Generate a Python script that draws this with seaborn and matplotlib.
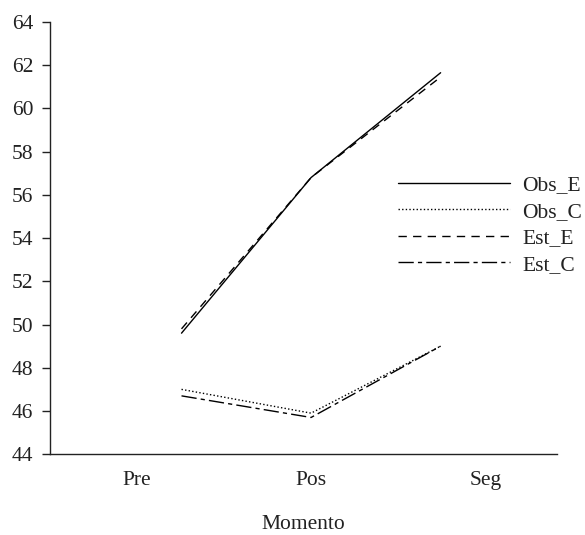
import pandas as pd
import numpy as np
import seaborn as sns
import matplotlib.pyplot as plt

# datos
momentos = ["Pre", "Pos", "Seg"]
obs_e = [49.6, 56.8, 61.65]
obs_c = [47.0, 45.9, 49.0]
est_e = [49.8, 56.8, 61.45]
est_c = [46.7, 45.7, 49.0]

series = {"Obs_E": obs_e, "Obs_C": obs_c, "Est_E": est_e, "Est_C": est_c}
estilos = {
    "Obs_E": "-",
    "Obs_C": (0, (1, 1.6)),
    "Est_E": (0, (6, 4.5)),
    "Est_C": (0, (11, 3, 3, 3)),
}

sns.set_theme(style="ticks")
plt.rcParams["font.family"] = ["Liberation Serif", "DejaVu Serif"]

fig = plt.figure(figsize=(5.85, 5.35), dpi=100)
ax = fig.add_axes([0.0855, 0.151, 0.867, 0.808])

pos = np.arange(len(momentos))
for nombre, valores in series.items():
    df = pd.DataFrame({"x": pos, "y": valores})
    sns.lineplot(data=df, x="x", y="y", ax=ax, color="black", lw=1.0,
                 linestyle=estilos[nombre], label=nombre)

ax.set_xlim(-1.015, 2.9)
ax.set_ylim(44, 64)
ax.set_yticks(np.arange(44, 65, 2))
ax.set_xticks([-0.346, 1.0, 2.346])
ax.set_xticklabels(momentos)
ax.tick_params(axis="x", length=0, pad=12, labelsize=15.5, colors="#222222")
ax.tick_params(axis="y", length=6, width=1, pad=6, labelsize=15.5,
               colors="#222222")
ax.set_xlabel("Momento", fontsize=15.5, labelpad=18, color="#222222")
ax.set_ylabel("")
sns.despine(ax=ax)
for s in ["left", "bottom"]:
    ax.spines[s].set_color("#222222")
    ax.spines[s].set_linewidth(1.0)

leg = ax.legend(loc="upper left", bbox_to_anchor=(0.67, 0.665), frameon=False,
                fontsize=15.5, handlelength=5.2, handletextpad=0.55,
                labelspacing=0.3, borderaxespad=0)
for t in leg.get_texts():
    t.set_color("#222222")

fig.savefig("out.png", dpi=100)
